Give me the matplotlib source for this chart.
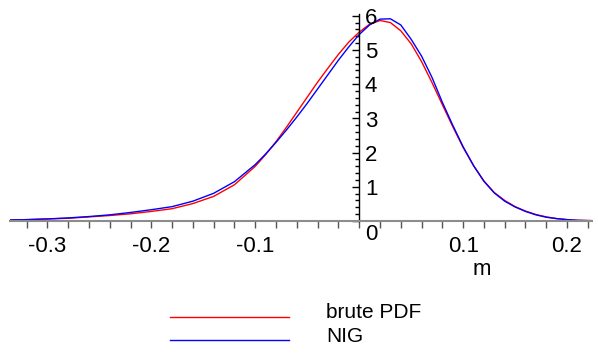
import matplotlib.pyplot as plt
from matplotlib.lines import Line2D
from matplotlib.ticker import MultipleLocator

plt.rcParams['font.family'] = ['Liberation Sans', 'DejaVu Sans']
plt.rcParams['axes.unicode_minus'] = False

# values
m_vals = [-0.336, -0.32, -0.30, -0.28, -0.26, -0.24, -0.22, -0.20, -0.18, -0.16,
          -0.14, -0.12, -0.10, -0.09, -0.08, -0.07, -0.06, -0.05, -0.04, -0.03,
          -0.02, -0.01, 0.0, 0.01, 0.02, 0.03, 0.04, 0.05, 0.06, 0.07,
          0.08, 0.09, 0.10, 0.11, 0.12, 0.13, 0.14, 0.15, 0.16, 0.17,
          0.18, 0.19, 0.20, 0.21, 0.224]
brute_pdf = [0.03, 0.04, 0.06, 0.08, 0.12, 0.16, 0.21, 0.28, 0.36, 0.51,
             0.72, 1.06, 1.60, 1.94, 2.32, 2.74, 3.18, 3.62, 4.06, 4.47,
             4.87, 5.23, 5.52, 5.75, 5.86, 5.80, 5.56, 5.18, 4.66, 4.05,
             3.40, 2.76, 2.15, 1.62, 1.17, 0.83, 0.60, 0.42, 0.29, 0.19,
             0.12, 0.07, 0.04, 0.02, 0.01]
nig = [0.03, 0.04, 0.06, 0.09, 0.13, 0.18, 0.25, 0.33, 0.42, 0.58,
       0.81, 1.15, 1.65, 1.96, 2.30, 2.66, 3.04, 3.44, 3.86, 4.28,
       4.70, 5.09, 5.45, 5.73, 5.90, 5.91, 5.73, 5.31, 4.82, 4.20,
       3.47, 2.80, 2.17, 1.62, 1.16, 0.82, 0.58, 0.41, 0.28, 0.18,
       0.11, 0.07, 0.04, 0.02, 0.01]

x_ticks = [-0.3, -0.2, -0.1, 0.1, 0.2]
x_labels = ["-0.3", "-0.2", "-0.1", "0.1", "0.2"]
y_ticks = [0, 1, 2, 3, 4, 5, 6]

fig = plt.figure(figsize=(5.98, 3.54), dpi=100)
ax = fig.add_axes([10 / 598, 133 / 354, 582 / 598, 207 / 354])

ax.plot(m_vals, brute_pdf, color="#ff0000", lw=1)
ax.plot(m_vals, nig, color="#0000ff", lw=1)

ax.set_xlim(-0.336, 0.224)
ax.set_ylim(0, 6.05)

# maple style axes crossing at the origin
for s in ["top", "right"]:
    ax.spines[s].set_visible(False)
ax.spines["left"].set_position(("data", 0))
ax.spines["bottom"].set_position(("data", 0))
ax.spines["left"].set_color("black")
ax.spines["left"].set_linewidth(1)
ax.spines["bottom"].set_color("#8c8c8c")
ax.spines["bottom"].set_linewidth(1.5)

ax.set_xticks(x_ticks)
ax.set_xticklabels(x_labels)
ax.xaxis.set_minor_locator(MultipleLocator(0.02))
ax.tick_params(axis="x", which="both", direction="out", length=5, width=1,
               color="#555555", labelsize=16, pad=6)

ax.set_yticks(y_ticks)
ax.set_yticklabels([])
ax.yaxis.set_minor_locator(MultipleLocator(0.2))
ax.tick_params(axis="y", which="major", direction="out", length=5, width=1, color="black")
ax.tick_params(axis="y", which="minor", direction="out", length=3, width=1, color="black")

# y labels sit right of the axis
for v in y_ticks:
    off = -10 if v == 0 else -2
    ax.annotate(str(v), xy=(0, v), xytext=(4, off), textcoords="offset points",
                ha="left", va="center", fontsize=16)

ax.annotate("m", xy=(0.118, 0), xytext=(0, -35), textcoords="offset points",
            ha="center", va="center", fontsize=16)

# legend below the plot
fig.add_artist(Line2D([170 / 598, 289 / 598], [1 - 316.5 / 354, 1 - 316.5 / 354],
                      color="#ff0000", lw=1))
fig.add_artist(Line2D([170 / 598, 289 / 598], [1 - 340 / 354, 1 - 340 / 354],
                      color="#0000ff", lw=1))
fig.text(326 / 598, 1 - 312 / 354, "brute PDF", fontsize=15, ha="left", va="center")
fig.text(326 / 598, 1 - 336 / 354, "NIG", fontsize=15, ha="left", va="center")

fig.savefig("out.png", dpi=100)
